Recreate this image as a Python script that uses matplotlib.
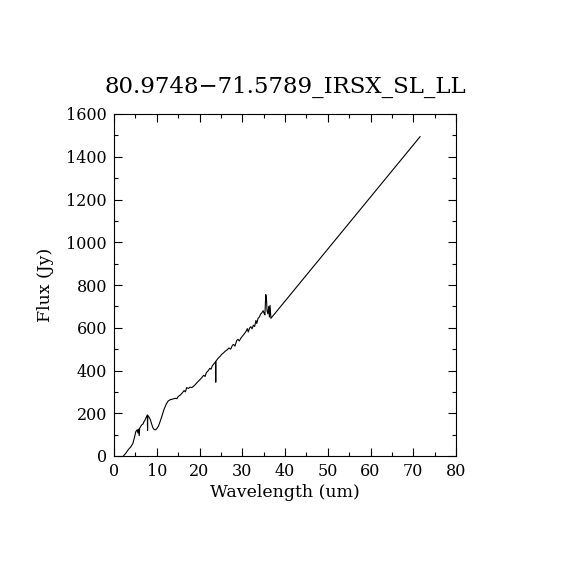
import matplotlib
matplotlib.use("Agg")
import matplotlib.pyplot as plt
from matplotlib.ticker import MultipleLocator

# spectrum (wavelength in um, flux in Jy)
wavelength = [2.2, 2.8, 3.35, 3.9, 4.4, 4.8, 5.1, 5.4, 5.6, 5.7, 5.9, 6.0, 6.3, 6.5,
              6.8, 7.0, 7.25, 7.5, 7.8, 7.85, 7.9, 8.2, 8.5, 8.8, 9.1, 9.4, 9.7, 10.0,
              10.4, 10.8, 11.2, 11.7, 12.2, 12.7, 13.2, 13.7, 14.3, 14.7, 15.0, 15.5,
              16.0, 16.4, 16.7, 17.0, 17.4, 17.8, 18.2, 18.6, 19.0, 19.5, 20.0, 20.5,
              21.0, 21.3, 21.6, 22.0, 22.4, 22.7, 23.0, 23.4, 23.75, 23.8, 23.85, 24.3,
              24.8, 25.2, 25.6, 26.0, 26.5, 26.9, 27.3, 27.7, 28.0, 28.3, 28.7, 29.0,
              29.3, 29.7, 30.1, 30.5, 30.9, 31.2, 31.4, 31.7, 32.0, 32.3, 32.6, 32.9,
              33.2, 33.4, 33.7, 34.0, 34.3, 34.6, 34.9, 35.1, 35.3, 35.5, 35.65, 35.8,
              36.0, 36.2, 36.35, 36.5, 36.7, 71.6]
flux = [0, 14, 30, 42, 58, 88, 114, 122, 108, 126, 95, 130, 140, 146,
        150, 160, 168, 180, 192, 120, 190, 182, 170, 150, 132, 124, 122, 128,
        140, 162, 186, 218, 242, 258, 264, 266, 270, 268, 278, 285,
        296, 306, 300, 320, 316, 322, 320, 326, 334, 345, 355, 366,
        378, 372, 390, 398, 410, 406, 422, 432, 441, 345, 444, 456,
        466, 476, 482, 490, 497, 505, 500, 518, 522, 514, 540, 546,
        538, 552, 562, 572, 584, 596, 580, 598, 605, 595, 612, 606,
        634, 620, 644, 650, 664, 670, 680, 668, 660, 755, 740, 680,
        665, 700, 650, 705, 644, 1494]

title = "80.9748\u221271.5789_IRSX_SL_LL"

plt.rcParams['font.family'] = ['DejaVu Serif']

fig = plt.figure(figsize=(5.7, 5.7), dpi=100)
ax = fig.add_axes([0.2, 0.2, 0.6, 0.6])

ax.plot(wavelength, flux, color='black', linewidth=0.8)

ax.set_xlim(0, 80)
ax.set_ylim(0, 1600)
ax.xaxis.set_major_locator(MultipleLocator(10))
ax.xaxis.set_minor_locator(MultipleLocator(5))
ax.yaxis.set_major_locator(MultipleLocator(200))
ax.yaxis.set_minor_locator(MultipleLocator(100))
ax.tick_params(which='both', direction='in', top=True, right=True,
               width=0.8, labelsize=11.5, pad=5)
ax.tick_params(which='major', length=6)
ax.tick_params(which='minor', length=3)
for s in ax.spines.values():
    s.set_linewidth(0.8)

ax.set_xlabel("Wavelength (um)", fontsize=12.5, labelpad=3)
ax.set_ylabel("Flux (Jy)", fontsize=12.5, labelpad=9)
ax.set_title(title, fontsize=16.5, pad=15)

fig.savefig("out.png", dpi=100)
